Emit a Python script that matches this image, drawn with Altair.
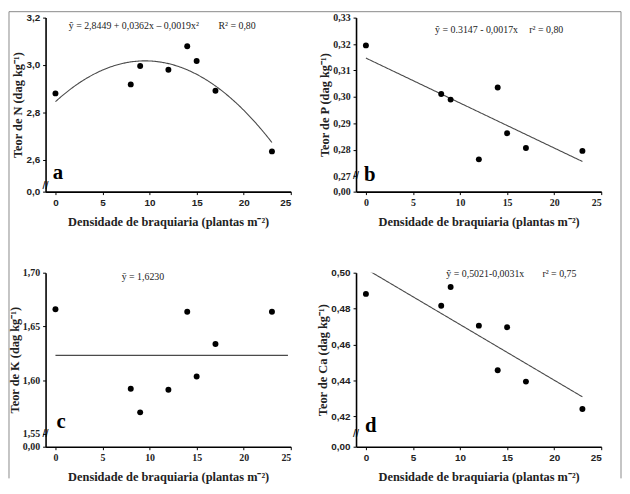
import altair as alt
import pandas as pd

# ---------------- data ----------------
density = [0, 8, 9, 12, 14, 15, 17, 23]

teor_n = [2.880, 2.918, 2.996, 2.980, 3.079, 3.017, 2.891, 2.635]
teor_p = [0.3195, 0.3011, 0.2990, 0.2764, 0.3036, 0.2863, 0.2807, 0.2796]
teor_k = [1.666, 1.592, 1.570, 1.591, 1.6636, 1.6034, 1.6336, 1.6636]
teor_ca = [0.4882, 0.4816, 0.4920, 0.4705, 0.4456, 0.4696, 0.4393, 0.4240]

# fitted equations printed on the panels: c0 + c1*x + c2*x^2, and their x-range
fit_n = [2.8449, 0.0362, -0.0019]
fit_p = [0.3147, -0.0017, 0.0]
fit_k = [1.6230, 0.0, 0.0]
fit_ca = [0.5021, -0.0031, 0.0]
range_n = [0, 23]
range_p = [0, 23]
range_k = [0, 24.7]
range_ca = [0, 23]

eq_text = {"n": "ŷ = 2,8449 + 0,0362x – 0,0019x²", "p": "ŷ = 0.3147 - 0,0017x",
           "k": "ȳ = 1,6230", "ca": "ŷ = 0,5021-0,0031x"}
r2_text = {"n": "R² = 0,80", "p": "r² = 0,80", "k": "", "ca": "r² = 0,75"}

y_titles = ["Teor de N (dag kg⁻¹)", "Teor de P (dag kg⁻¹)",
            "Teor de K (dag kg⁻¹)", "Teor de Ca (dag kg⁻¹)"]
x_title = "Densidade de braquiaria (plantas m⁻²)"
x_ticks = [0, 5, 10, 15, 20, 25]
x_domain = [-1.05, 25]

# broken y axes: lowest tick stands for the zero at the axis origin
n_ticks = [2.465, 2.6, 2.8, 3.0, 3.2]
n_labels = ["0,0", "2,6", "2,8", "3,0", "3,2"]
p_ticks = [0.2642, 0.27, 0.28, 0.29, 0.30, 0.31, 0.32, 0.33]
p_labels = ["0,00", "0,27", "0,28", "0,29", "0,30", "0,31", "0,32", "0,33"]
k_ticks = [1.538, 1.55, 1.60, 1.65, 1.70]
k_labels = ["0,00", "1,55", "1,60", "1,65", "1,70"]
ca_ticks = [0.403, 0.42, 0.44, 0.46, 0.48, 0.50]
ca_labels = ["0,00", "0,42", "0,44", "0,46", "0,48", "0,50"]

# annotation anchors (data coordinates, left edge of the text)
eq_pos = {"n": [1.41, 3.164], "p": [7.35, 0.3254], "k": [7.03, 1.6963], "ca": [8.54, 0.4993]}
r2_pos = {"n": [17.31, 3.164], "p": [17.35, 0.3254], "k": [0, 1.6963], "ca": [18.75, 0.4993]}
letters = {"n": "a", "p": "b", "k": "c", "ca": "d"}
letter_pos = {"n": [-0.3, 2.545], "p": [-0.2, 0.2706], "k": [0.1, 1.561], "ca": [-0.1, 0.4143]}
break_y = {"n": 2.487, "p": 0.2700, "k": 1.550, "ca": 0.4098}

SERIF = "Liberation Serif"
SANS = "Liberation Sans"


def panel(key, yvals, fit, frange, ticks, labels, ytitle, tick_font):
    xs = alt.Scale(domain=x_domain, nice=False, zero=False)
    ys = alt.Scale(domain=[ticks[0], ticks[-1]], nice=False, zero=False)
    label_expr = ("[" + ",".join(f"'{l}'" for l in labels) + "][indexof(["
                  + ",".join(repr(t) for t in ticks) + "], datum.value)]")
    xaxis = alt.Axis(values=x_ticks, title=x_title, labelFont=tick_font,
                     titlePadding=8, labelPadding=3)
    yaxis = alt.Axis(values=ticks, labelExpr=label_expr, title=ytitle,
                     labelFont=tick_font, titlePadding=1, labelPadding=3)
    X = alt.X("x:Q", scale=xs, axis=xaxis)
    Y = alt.Y("y:Q", scale=ys, axis=yaxis)

    df = pd.DataFrame({"x": density, "y": yvals})
    pts = alt.Chart(df).mark_circle(size=36, color="black", opacity=1).encode(x=X, y=Y)

    curve = (
        alt.Chart(alt.sequence(frange[0], frange[1] + 0.01, 0.1, as_="x"))
        .transform_calculate(y=f"{fit[0]} + ({fit[1]})*datum.x + ({fit[2]})*datum.x*datum.x")
        .mark_line(color="#4a4a4a", strokeWidth=1.1, clip=True)
        .encode(x=X, y=Y)
    )

    ann_df = pd.DataFrame({
        "x": [eq_pos[key][0], r2_pos[key][0]],
        "y": [eq_pos[key][1], r2_pos[key][1]],
        "t": [eq_text[key], r2_text[key]],
    })
    eq_txt = alt.Chart(ann_df).mark_text(font=SERIF, fontSize=10, color="#222",
                                         align="left", baseline="middle").encode(x=X, y=Y, text="t:N")

    let_df = pd.DataFrame({"x": [letter_pos[key][0]], "y": [letter_pos[key][1]], "t": [letters[key]]})
    let_txt = alt.Chart(let_df).mark_text(font=SERIF, fontSize=21, fontWeight="bold", color="black",
                                          align="left", baseline="middle").encode(x=X, y=Y, text="t:N")

    br_df = pd.DataFrame({"x": [x_domain[0]], "y": [break_y[key]], "t": ["//"]})
    br_txt = alt.Chart(br_df).mark_text(font=SANS, fontSize=11, color="black",
                                        align="center", baseline="middle").encode(x=X, y=Y, text="t:N")

    layers = [curve, pts, eq_txt, let_txt, br_txt]

    if key == "n":
        frame = alt.Chart(pd.DataFrame({"k": [0]})).mark_rule(color="#8a8a8a", strokeWidth=1)
        layers += [
            frame.encode(x=alt.value(-37), x2=alt.value(582), y=alt.value(-6)),
            frame.encode(x=alt.value(-37), y=alt.value(-6), y2=alt.value(466)),
            frame.encode(x=alt.value(582), y=alt.value(-6), y2=alt.value(466)),
        ]
    return alt.layer(*layers).properties(width=248, height=176)


pa = panel("n", teor_n, fit_n, range_n, n_ticks, n_labels, y_titles[0], SANS)
pb = panel("p", teor_p, fit_p, range_p, p_ticks, p_labels, y_titles[1], SERIF)
pc = panel("k", teor_k, fit_k, range_k, k_ticks, k_labels, y_titles[2], SERIF)
pd_ = panel("ca", teor_ca, fit_ca, range_ca, ca_ticks, ca_labels, y_titles[3], SANS)

chart = (
    alt.concat(pa, pb, pc, pd_, columns=2, spacing={"row": 82, "column": 66},
               bounds="flush", padding=0)
    .configure_view(stroke=None)
    .configure_axis(
        grid=False,
        domainColor="black",
        domainWidth=1.6,
        tickColor="black",
        tickSize=3,
        labelColor="#222",
        labelFontSize=10,
        labelFontWeight="bold",
        titleFont=SERIF,
        titleFontSize=12.5,
        titleFontWeight="bold",
        titleColor="#222",
    )
)

chart.save("out.html", embed_options={"renderer": "svg", "actions": False})
